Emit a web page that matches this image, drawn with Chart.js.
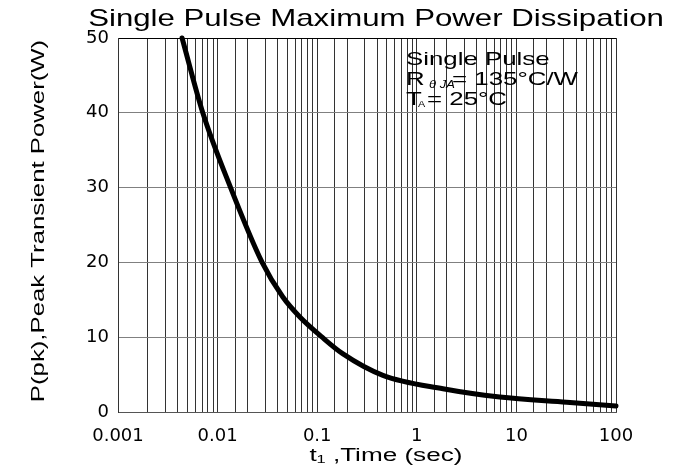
<!DOCTYPE html>
<html>
<head>
<meta charset="utf-8">
<script src="https://cdn.jsdelivr.net/npm/chart.js@4.4.0/dist/chart.umd.min.js"></script>
<style>
  html, body { margin: 0; padding: 0; background: #fff; }
  #wrap { width: 682px; height: 470px; }
</style>
</head>
<body>
<div id="wrap"><canvas id="myChart" width="682" height="470"></canvas></div>
<script>
// values
const timeSec = [0.0044, 0.0071, 0.0135, 0.028, 0.045, 0.067, 0.112, 0.18, 0.457, 1.83, 6.8, 32, 100];
const powerW = [50, 40, 30, 20, 15.4, 12.7, 10, 7.8, 4.9, 3.1, 2.0, 1.3, 0.8];
const xTickLabels = ['0.001', '0.01', '0.1', '1', '10', '100'];
const yTicks = [0, 10, 20, 30, 40, 50];

const FONT = '"Liberation Sans", Arial, sans-serif';
const TICKFONT = '"DejaVu Sans", "Liberation Sans", sans-serif';

const points = timeSec.map((t, i) => ({ x: t, y: powerW[i] }));

// the text in the picture is stretched sideways, so draw it scaled
function stretched(ctx, text, x, y, font, sx, align) {
    ctx.save();
    ctx.font = font;
    ctx.textAlign = align || 'left';
    ctx.translate(x, y);
    ctx.scale(sx, 1);
    ctx.fillText(text, 0, 0);
    ctx.restore();
}

const textPlugin = {
    id: 'texts',
    afterDraw(chart) {
        const ctx = chart.ctx;
        ctx.save();
        ctx.fillStyle = '#000';
        ctx.textBaseline = 'alphabetic';

        stretched(ctx, 'Single Pulse Maximum Power Dissipation', 376, 26, '24px ' + FONT, 1.3, 'center');

        // note
        stretched(ctx, 'Single Pulse', 406, 65, '19px ' + FONT, 1.36);
        stretched(ctx, 'R', 406, 85, '19px ' + FONT, 1.36);
        stretched(ctx, '\u03B8 JA', 429, 88, 'italic 10px ' + FONT, 1.3);
        stretched(ctx, '= 135\u00B0C/W', 452, 85, '19px ' + FONT, 1.36);
        stretched(ctx, 'T', 406, 105, '19px ' + FONT, 1.36);
        stretched(ctx, 'A', 418, 107, '9px ' + FONT, 1.2);
        stretched(ctx, '= 25\u00B0C', 427, 105, '19px ' + FONT, 1.36);

        // axis titles
        stretched(ctx, 't\u2081 ,Time (sec)', 386, 461, '18px ' + FONT, 1.45, 'center');
        ctx.save();
        ctx.translate(44, 221);
        ctx.rotate(-Math.PI / 2);
        stretched(ctx, 'P(pk),Peak Transient Power(W)', 0, 0, '18px ' + FONT, 1.43, 'center');
        ctx.restore();

        ctx.restore();
    }
};

const config = {
    type: 'line',
    data: {
        datasets: [{
            data: points,
            borderColor: '#000',
            borderWidth: 5,
            borderCapStyle: 'round',
            pointRadius: 0,
            fill: false,
            cubicInterpolationMode: 'monotone',
            clip: false
        }]
    },
    options: {
        responsive: false,
        animation: false,
        layout: {
            padding: { left: 0, right: 66, top: 38, bottom: 0 }
        },
        plugins: {
            legend: { display: false },
            title: { display: false },
            tooltip: { enabled: false }
        },
        scales: {
            x: {
                type: 'logarithmic',
                min: 0.001,
                max: 100,
                afterFit(scale) { scale.height = 58; },
                grid: {
                    color: '#333',
                    lineWidth: 1,
                    drawTicks: false
                },
                border: { color: '#555', width: 1 },
                ticks: {
                    autoSkip: false,
                    maxRotation: 0,
                    padding: 14,
                    color: '#000',
                    font: { family: TICKFONT, size: 18 },
                    callback(value) {
                        const e = Math.log10(value);
                        if (Math.abs(e - Math.round(e)) < 1e-6) {
                            return xTickLabels[Math.round(e) + 3];
                        }
                        return '';
                    }
                }
            },
            y: {
                min: 0,
                max: 50,
                afterFit(scale) { scale.width = 118; },
                afterBuildTicks(scale) {
                    scale.ticks = yTicks.map(v => ({ value: v }));
                },
                grid: {
                    color: (c) => c.tick && c.tick.value === 50 ? '#000' : '#808080',
                    lineWidth: 1,
                    drawTicks: false
                },
                border: { color: '#333', width: 1 },
                ticks: {
                    padding: 9,
                    color: '#000',
                    font: { family: TICKFONT, size: 18 }
                }
            }
        }
    },
    plugins: [textPlugin]
};

const myChart = new Chart(
    document.getElementById('myChart'),
    config
);
</script>
</body>
</html>
